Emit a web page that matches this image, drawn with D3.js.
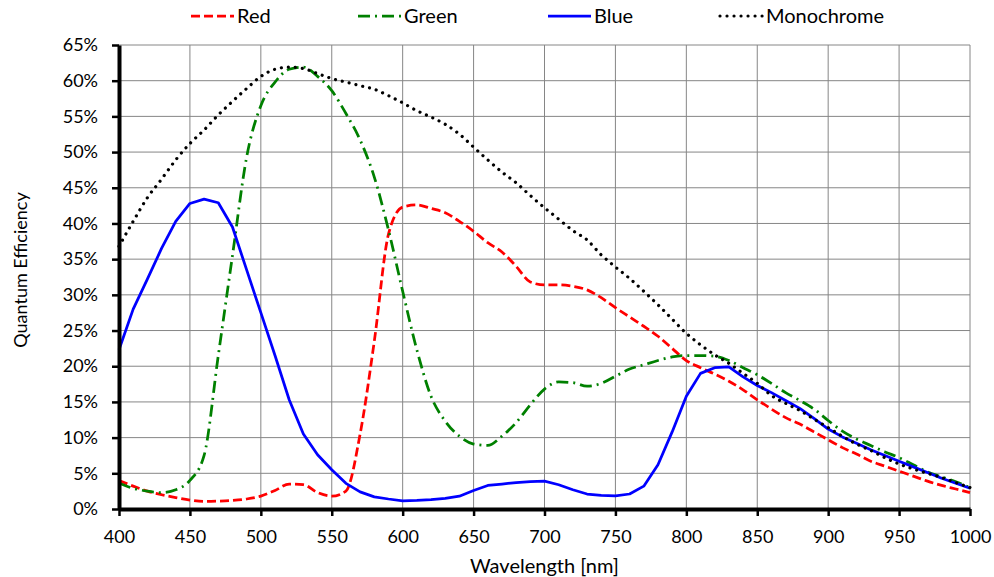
<!DOCTYPE html>
<html>
<head>
<meta charset="utf-8">
<script src="https://cdn.jsdelivr.net/npm/d3@7"></script>
<style>
  body { margin: 0; background: #fff; }
  text { font-family: Lato, "Open Sans", sans-serif; fill: #000; }
</style>
</head>
<body>
<div id="chart"></div>
<script>
// --- DATA ---
const wavelengths = [400,410,420,430,440,450,460,470,480,490,500,510,520,530,540,550,560,570,580,590,
  600,610,620,630,640,650,660,670,680,690,700,710,720,730,740,750,760,770,780,790,
  800,810,820,830,840,850,860,870,880,890,900,910,920,930,940,950,960,970,980,990,1000];

const redQE = [4.0,3.2,2.5,2.0,1.6,1.25,1.05,1.1,1.2,1.4,1.8,2.6,3.5,3.4,2.3,1.8,2.5,10.5,23.5,38.5,
  42.3,42.6,42.1,41.5,40.3,38.9,37.3,36.0,34.0,31.8,31.4,31.4,31.2,30.7,29.6,28.2,26.9,25.6,24.2,22.5,
  20.8,19.8,18.9,17.9,16.7,15.3,14.0,12.8,11.9,10.8,9.7,8.6,7.7,6.7,6.0,5.3,4.6,3.9,3.3,2.8,2.3];

const greenQE = [3.6,2.9,2.5,2.3,2.7,4.0,7.5,21.5,35.5,49.3,56.5,59.8,61.6,61.9,60.6,58.6,55.4,51.7,46.5,39.1,
  30.5,22.3,15.8,12.3,10.2,9.1,8.9,10.2,12.1,14.6,16.8,17.8,17.7,17.2,17.6,18.6,19.6,20.2,20.8,21.3,
  21.5,21.5,21.4,20.8,19.8,18.8,17.6,16.3,15.2,14.0,12.4,10.9,9.8,8.9,8.0,7.2,6.2,5.2,4.5,3.8,3.0];

const blueQE = [22.3,28.0,32.2,36.5,40.3,42.8,43.4,42.9,39.5,33.5,27.5,21.5,15.3,10.5,7.6,5.5,3.6,2.4,1.7,1.4,
  1.15,1.2,1.3,1.5,1.8,2.6,3.3,3.5,3.7,3.85,3.9,3.4,2.7,2.1,1.9,1.85,2.1,3.2,6.2,10.8,
  15.8,19.0,19.8,19.9,18.5,17.3,16.3,15.2,14.1,12.7,11.2,10.1,9.2,8.3,7.5,6.7,5.9,5.1,4.3,3.6,2.9];

const monoQE = [36.8,40.3,43.6,46.2,48.9,51.2,53.1,55.2,57.1,58.9,60.6,61.6,61.9,61.7,61.0,60.3,59.8,59.3,58.8,57.9,
  56.9,55.8,54.9,53.9,52.5,50.7,48.9,47.2,45.7,43.9,42.2,40.6,39.0,37.7,35.6,33.9,32.3,30.5,28.6,26.6,
  24.6,23.0,21.6,20.4,19.0,17.6,15.9,14.8,13.8,12.6,11.4,10.2,9.1,8.2,7.2,6.3,5.6,5.0,4.4,3.7,3.0];

const xTicks = [400,450,500,550,600,650,700,750,800,850,900,950,1000];
const yTicks = [0,5,10,15,20,25,30,35,40,45,50,55,60,65];

const seriesNames = ['Red','Green','Blue','Monochrome'];

// --- LAYOUT ---
const width = 994, height = 577;
const margin = { top: 45, right: 24, bottom: 68, left: 119 };
const w = width - margin.left - margin.right;
const h = height - margin.top - margin.bottom;

const svg = d3.select('#chart').append('svg')
  .attr('width', width)
  .attr('height', height);

const g = svg.append('g')
  .attr('transform', `translate(${margin.left},${margin.top})`);

const x = d3.scaleLinear().domain([400, 1000]).range([0, w]);
const y = d3.scaleLinear().domain([0, 65]).range([h, 0]);

// grid
g.append('g')
  .selectAll('line')
  .data(xTicks)
  .enter().append('line')
    .attr('x1', d => x(d)).attr('x2', d => x(d))
    .attr('y1', 0).attr('y2', h)
    .attr('stroke', '#868686').attr('stroke-width', 1);

g.append('g')
  .selectAll('line')
  .data(yTicks)
  .enter().append('line')
    .attr('x1', 0).attr('x2', w)
    .attr('y1', d => y(d)).attr('y2', d => y(d))
    .attr('stroke', '#868686').attr('stroke-width', 1);

// lines
const styles = [
  { data: redQE,   color: '#ff0000', dash: '9 4',       width: 2.75, curve: d3.curveMonotoneX, cap: 'butt' },
  { data: greenQE, color: '#008000', dash: '12 5 2 5',  width: 2.75, curve: d3.curveMonotoneX, cap: 'butt' },
  { data: blueQE,  color: '#0000ff', dash: null,        width: 2.75, curve: d3.curveLinear,    cap: 'butt' },
  { data: monoQE,  color: '#000000', dash: '0.01 7',    width: 3.2,  curve: d3.curveMonotoneX, cap: 'round' }
];

styles.forEach(s => {
  const line = d3.line()
    .x((d, i) => x(wavelengths[i]))
    .y(d => y(d))
    .curve(s.curve);
  g.append('path')
    .datum(s.data)
    .attr('d', line)
    .attr('fill', 'none')
    .attr('stroke', s.color)
    .attr('stroke-width', s.width)
    .attr('stroke-linecap', s.cap)
    .attr('stroke-linejoin', 'round')
    .attr('stroke-dasharray', s.dash);
});

// axes
const xAxis = g.append('g')
  .attr('transform', `translate(0,${h})`)
  .call(d3.axisBottom(x).tickValues(xTicks).tickSize(7).tickSizeOuter(0).tickPadding(14)
    .tickFormat(d3.format('d')));
const yAxis = g.append('g')
  .call(d3.axisLeft(y).tickValues(yTicks).tickSize(7).tickSizeOuter(0).tickPadding(14)
    .tickFormat(d => d + '%'));

[xAxis, yAxis].forEach(a => {
  a.select('.domain').attr('stroke', '#000').attr('stroke-width', 4);
  a.selectAll('.tick line').attr('stroke', '#000').attr('stroke-width', 2.5);
  a.selectAll('text')
    .style('font-size', '18px')
    .style('font-family', 'Lato, sans-serif')
    .attr('fill', '#222');
});

// axis titles
svg.append('text')
  .attr('x', margin.left + w / 2)
  .attr('y', 573)
  .attr('text-anchor', 'middle')
  .style('font-size', '20px')
  .text('Wavelength [nm]');

svg.append('text')
  .attr('transform', `translate(27,270) rotate(-90)`)
  .attr('text-anchor', 'middle')
  .style('font-size', '18px')
  .text('Quantum Efficiency');

// legend
const legendX = [191, 358, 548, 720];
const leg = svg.append('g');
styles.forEach((s, i) => {
  leg.append('line')
    .attr('x1', legendX[i]).attr('x2', legendX[i] + 43)
    .attr('y1', 16).attr('y2', 16)
    .attr('stroke', s.color)
    .attr('stroke-width', s.width)
    .attr('stroke-linecap', s.cap)
    .attr('stroke-dasharray', s.dash);
  leg.append('text')
    .attr('x', legendX[i] + 46)
    .attr('y', 23)
    .style('font-size', '20px')
    .attr('fill', '#222')
    .text(seriesNames[i]);
});
</script>
</body>
</html>
